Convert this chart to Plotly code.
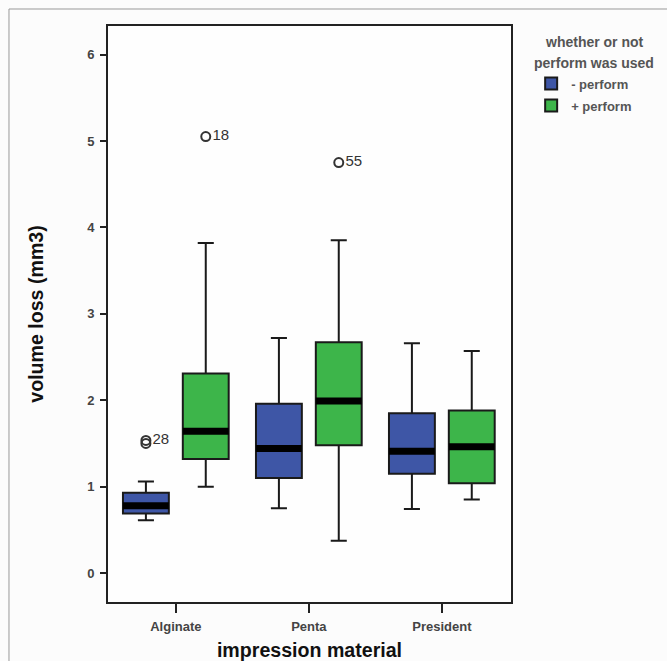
import plotly.graph_objects as go

categories = ["Alginate", "Penta", "President"]
cat_pos = [0, 1, 2]

# - perform (blue)
minus_lower = [0.61, 0.75, 0.74]
minus_q1 = [0.69, 1.10, 1.15]
minus_median = [0.78, 1.44, 1.41]
minus_q3 = [0.93, 1.96, 1.85]
minus_upper = [1.06, 2.72, 2.66]

# + perform (green)
plus_lower = [1.00, 0.375, 0.85]
plus_q1 = [1.32, 1.48, 1.04]
plus_median = [1.64, 1.99, 1.46]
plus_q3 = [2.31, 2.67, 1.88]
plus_upper = [3.82, 3.85, 2.57]

# outliers: (category index, group, value, label)
out_cat = [0, 0, 0, 1]
out_group = ["minus", "minus", "plus", "plus"]
out_val = [1.50, 1.535, 5.05, 4.75]
out_label = ["", "28", "18", "55"]

y_ticks = [0, 1, 2, 3, 4, 5, 6]
legend_title_lines = ["whether or not", "perform was used"]

BLUE = "#3e56a6"
GREEN = "#3db54a"
OFFSET = 0.225
BOXW = 0.345
FONT = "Liberation Sans, Arial, sans-serif"

fig = go.Figure()

groups = [
    ("- perform", -OFFSET, BLUE, minus_lower, minus_q1, minus_median, minus_q3, minus_upper),
    ("+ perform", OFFSET, GREEN, plus_lower, plus_q1, plus_median, plus_q3, plus_upper),
]

for name, off, col, lo, q1, med, q3, up in groups:
    xs = [c + off for c in cat_pos]
    fig.add_trace(go.Box(
        name=name, x=xs, lowerfence=lo, q1=q1, median=med, q3=q3, upperfence=up,
        width=BOXW, whiskerwidth=0.35, fillcolor=col,
        line=dict(color="#1a1a1a", width=2),
        boxpoints=False, hoverinfo="skip", showlegend=True, legendgroup=name,
    ))

# thick median lines
for name, off, col, lo, q1, med, q3, up in groups:
    mx, my = [], []
    for c, m in zip(cat_pos, med):
        mx += [c + off - BOXW / 2, c + off + BOXW / 2, None]
        my += [m, m, None]
    fig.add_trace(go.Scatter(x=mx, y=my, mode="lines",
                             line=dict(color="black", width=7),
                             showlegend=False, hoverinfo="skip"))

# outliers
ox = [c + (-OFFSET if g == "minus" else OFFSET) for c, g in zip(out_cat, out_group)]
fig.add_trace(go.Scatter(
    x=ox, y=out_val, mode="markers+text", text=out_label, textposition="middle right",
    textfont=dict(family=FONT, size=15, color="#333"),
    marker=dict(symbol="circle-open", size=9, color="#333", line=dict(width=2, color="#333")),
    showlegend=False, hoverinfo="skip", cliponaxis=False,
))

annotations = []
for i, line in enumerate(legend_title_lines):
    annotations.append(dict(
        text=line, xref="paper", yref="paper", x=1.206, y=0.9722 - i * 0.0364,
        xanchor="center", yanchor="middle", showarrow=False,
        font=dict(family=FONT, size=14, color="#555", weight="bold"),
    ))

fig.update_layout(
    width=667, height=661,
    margin=dict(l=108, r=156, t=26, b=59, autoexpand=False),
    paper_bgcolor="#fcfcfc", plot_bgcolor="#fefefe",
    font=dict(family=FONT, color="#444"),
    boxmode="overlay",
    legend=dict(
        x=1.05, y=0.926, xanchor="left", yanchor="top",
        font=dict(size=13, color="#555", weight="bold"),
        bgcolor="rgba(0,0,0,0)", itemclick=False, tracegroupgap=2,
        traceorder="grouped",
    ),
    annotations=annotations,
    xaxis=dict(
        range=[-0.51, 2.52], tickvals=cat_pos, ticktext=categories,
        showline=True, linecolor="#222", linewidth=2, mirror=True,
        ticks="outside", ticklen=9, tickwidth=1.5, tickcolor="#222",
        showgrid=False, zeroline=False, automargin=False, ticklabelstandoff=2,
        tickfont=dict(size=13, color="#444", weight="bold"),
        title=dict(text="impression material", standoff=14,
                   font=dict(size=19.6, color="#111", weight="bold")),
    ),
    yaxis=dict(
        range=[-0.335, 6.33], tickvals=y_ticks,
        showline=True, linecolor="#222", linewidth=2, mirror=True,
        ticks="outside", ticklen=6, tickwidth=1.5, tickcolor="#222",
        showgrid=False, zeroline=False, automargin=False, ticklabelstandoff=3,
        tickfont=dict(size=13, color="#444", weight="bold"),
        title=dict(text="volume loss (mm3)", standoff=38,
                   font=dict(size=19.6, color="#111", weight="bold")),
    ),
    shapes=[dict(type="rect", xref="paper", yref="paper",
                 x0=-0.2457, x1=1.40, y0=-0.12, y1=1.0295,
                 line=dict(color="#999", width=1), fillcolor="rgba(0,0,0,0)", layer="below")],
)

fig.write_html(
    "out.html",
    config={"displayModeBar": False},
    post_script="document.body.style.margin='0';document.body.style.overflow='hidden';",
)
